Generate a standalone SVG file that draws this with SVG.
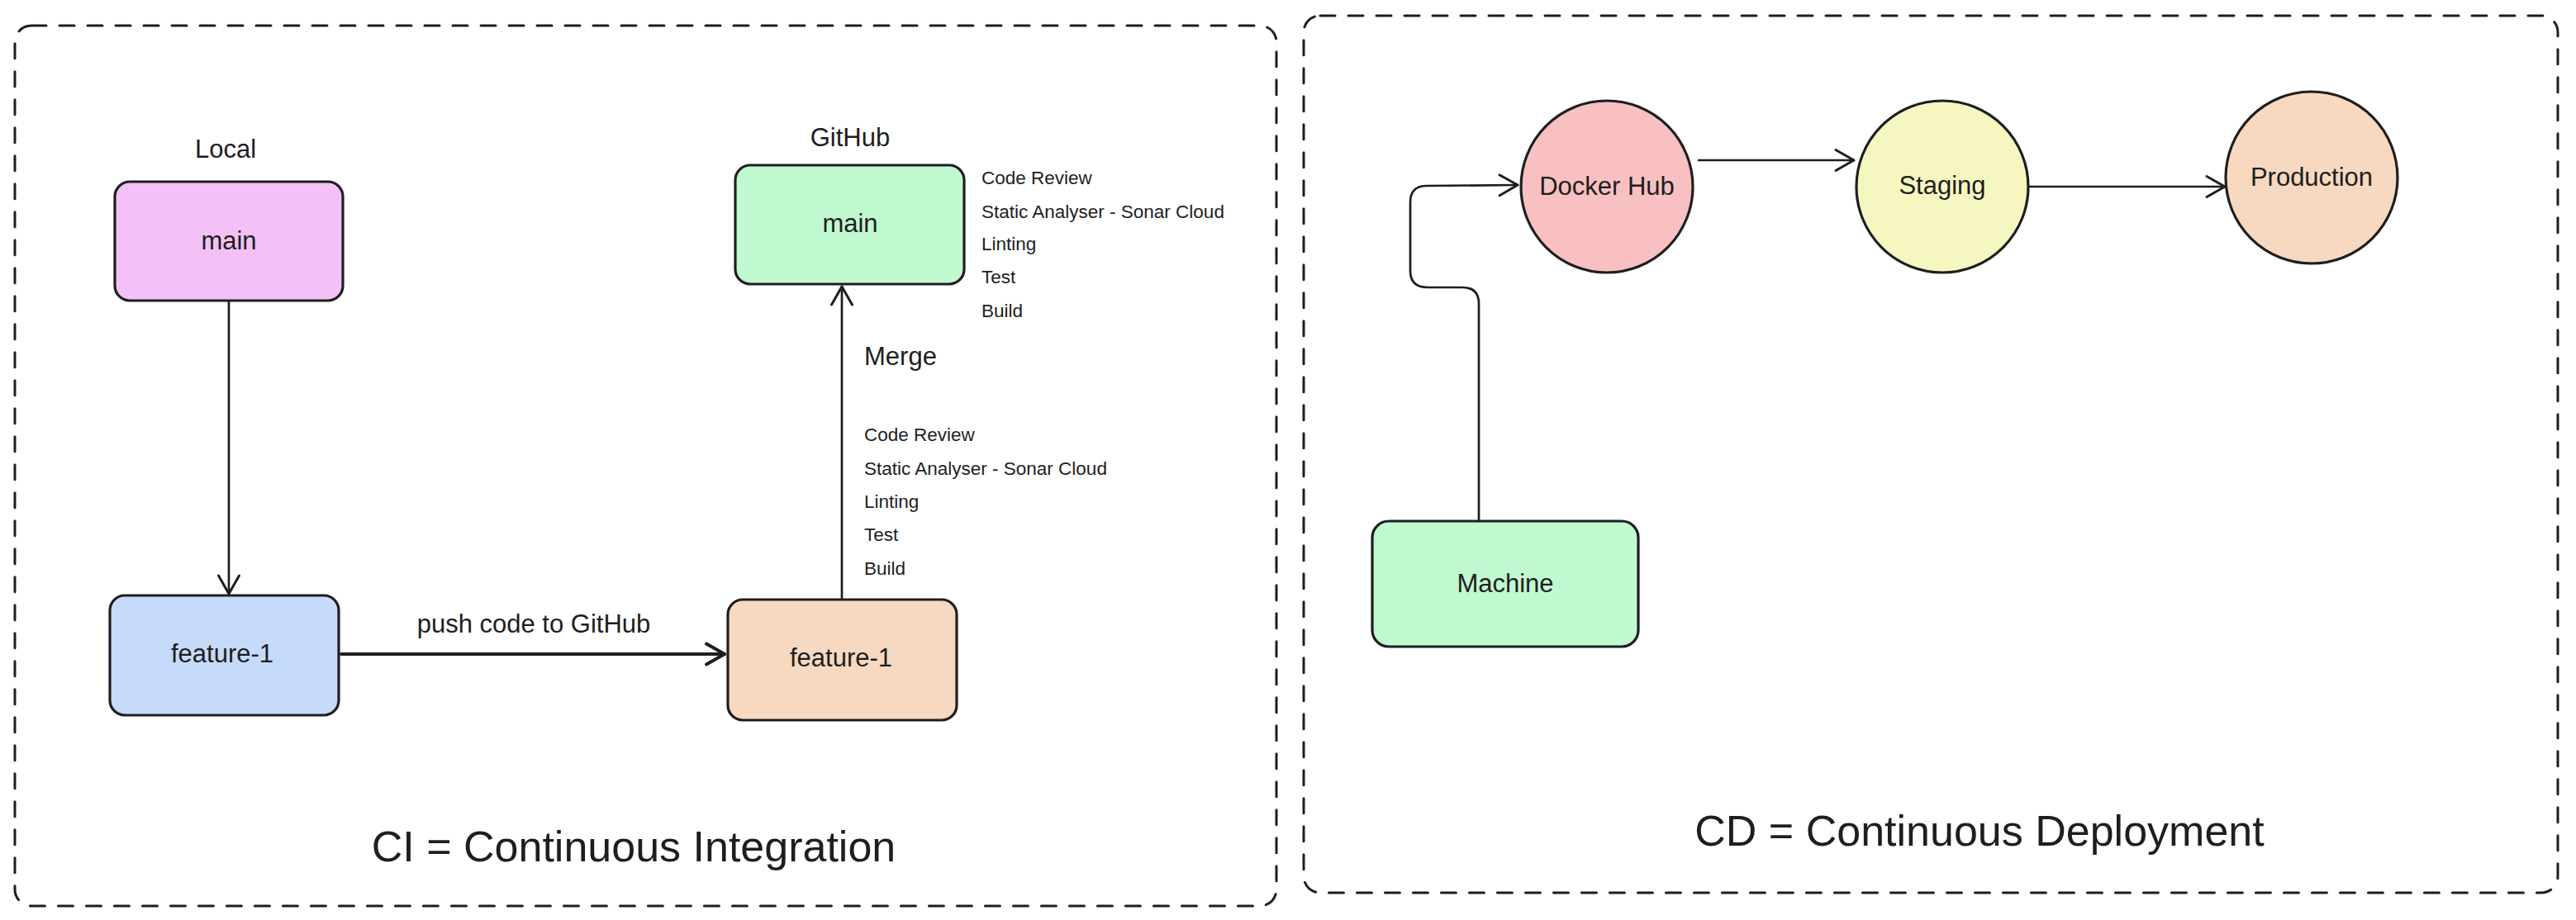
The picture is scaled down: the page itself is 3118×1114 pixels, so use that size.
<svg xmlns="http://www.w3.org/2000/svg" width="3118" height="1114" viewBox="0 0 3118 1114">
<style>
text{font-family:"Liberation Sans",Arial,Helvetica,sans-serif;fill:#1e1e1e}
.lbl{font-size:31px;text-anchor:middle}
.edge{font-size:31px}
.chk{font-size:22.5px}
.title{font-size:52px;text-anchor:middle}
.frame{fill:none;stroke:#1e1e1e;stroke-width:3;stroke-dasharray:18 16;stroke-linecap:round}
.node{stroke:#1e1e1e;stroke-width:3.2}
.conn{fill:none;stroke:#1e1e1e;stroke-width:2.7;stroke-linecap:round;stroke-linejoin:round}
.thick{stroke-width:4}
</style>
<defs>
<marker id="arr" markerUnits="userSpaceOnUse" markerWidth="40" markerHeight="40" viewBox="-30 -20 40 40" refX="0" refY="0" orient="auto" overflow="visible">
<path d="M-22,-12.5 L0,0 L-22,12.5" fill="none" stroke="#1e1e1e" stroke-width="3" stroke-linecap="round" stroke-linejoin="round"/>
</marker>
<marker id="arrT" markerUnits="userSpaceOnUse" markerWidth="40" markerHeight="40" viewBox="-30 -20 40 40" refX="0" refY="0" orient="auto" overflow="visible">
<path d="M-22,-12.5 L0,0 L-22,12.5" fill="none" stroke="#1e1e1e" stroke-width="4" stroke-linecap="round" stroke-linejoin="round"/>
</marker>
</defs>
<rect width="3118" height="1114" fill="#ffffff"/>

<g id="ci-frame">
<rect class="frame" x="18" y="31" width="1527" height="1066" rx="20"/>
<text class="title" x="767" y="1043">CI = Continuous Integration</text>
</g>
<g id="cd-frame">
<rect class="frame" x="1578" y="19" width="1518" height="1062" rx="20"/>
<text class="title" x="2396" y="1024">CD = Continuous Deployment</text>
</g>

<g id="connectors">
<path class="conn" d="M277,366 L277,719" marker-end="url(#arr)"/>
<path class="conn thick" d="M413,792 L877,792" marker-end="url(#arrT)"/>
<text class="edge" x="646" y="766" text-anchor="middle">push code to GitHub</text>
<path class="conn" d="M1019,724 L1019,347" marker-end="url(#arr)"/>
<text class="edge" x="1046" y="442">Merge</text>
<path class="conn" d="M1790,630 L1790,368 Q1790,348 1770,348 L1728,348 Q1707,348 1707,328 L1707,245 Q1707,225 1727,225 L1837,224" marker-end="url(#arr)"/>
<path class="conn" d="M2056,194 L2244,194" marker-end="url(#arr)"/>
<path class="conn" d="M2457,226 L2693,226" marker-end="url(#arr)"/>
</g>

<g id="local-label"><text class="lbl" x="273" y="191">Local</text></g>
<g id="local-main">
<rect class="node" x="139" y="220" width="276" height="144" rx="18" fill="#f3c1f7"/>
<text class="lbl" x="277" y="302">main</text>
</g>
<g id="local-feature">
<rect class="node" x="133" y="721" width="277" height="145" rx="18" fill="#c6dbfa"/>
<text class="lbl" x="269" y="802">feature-1</text>
</g>
<g id="github-label"><text class="lbl" x="1029" y="177">GitHub</text></g>
<g id="github-main">
<rect class="node" x="890" y="200" width="277" height="144" rx="18" fill="#c0f8d0"/>
<text class="lbl" x="1029" y="281">main</text>
</g>
<g id="github-main-checks">
<text class="chk" x="1188" y="223">Code Review</text>
<text class="chk" x="1188" y="263.5">Static Analyser - Sonar Cloud</text>
<text class="chk" x="1188" y="303">Linting</text>
<text class="chk" x="1188" y="343">Test</text>
<text class="chk" x="1188" y="383.5">Build</text>
</g>
<g id="merge-checks">
<text class="chk" x="1046" y="534">Code Review</text>
<text class="chk" x="1046" y="575">Static Analyser - Sonar Cloud</text>
<text class="chk" x="1046" y="615">Linting</text>
<text class="chk" x="1046" y="655">Test</text>
<text class="chk" x="1046" y="696">Build</text>
</g>
<g id="github-feature">
<rect class="node" x="881" y="726" width="277" height="146" rx="18" fill="#f7d8c0"/>
<text class="lbl" x="1018" y="807">feature-1</text>
</g>

<g id="docker-hub">
<circle class="node" cx="1945" cy="226" r="104" fill="#f8c0c1"/>
<text class="lbl" x="1945" y="236">Docker Hub</text>
</g>
<g id="staging">
<circle class="node" cx="2351" cy="226" r="104" fill="#f6f7c0"/>
<text class="lbl" x="2351" y="235">Staging</text>
</g>
<g id="production">
<circle class="node" cx="2798" cy="215" r="104" fill="#f7d8c0"/>
<text class="lbl" x="2798" y="225">Production</text>
</g>
<g id="machine">
<rect class="node" x="1661" y="631" width="322" height="152" rx="20" fill="#c0f8d0"/>
<text class="lbl" x="1822" y="717">Machine</text>
</g>
</svg>
